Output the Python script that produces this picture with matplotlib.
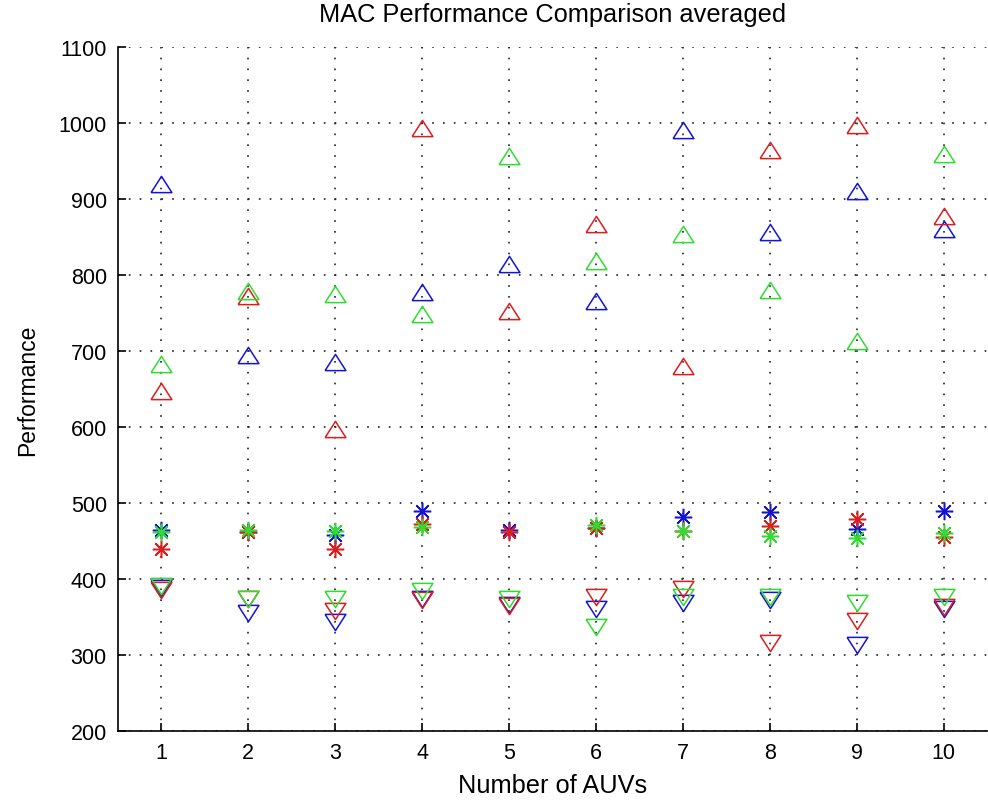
import numpy as np
import matplotlib
matplotlib.use("Agg")
import matplotlib.pyplot as plt

plt.rcParams['font.family'] = ['Liberation Sans', 'DejaVu Sans']

auvs = np.arange(1, 11)
xtick_labels = [str(i) for i in auvs]
yticks = list(range(200, 1101, 100))

# upward triangles
blue_up = [920, 695, 686, 778, 814, 766, 991, 857, 911, 860]
red_up = [647, 772, 597, 993, 753, 867, 680, 964, 998, 878]
green_up = [683, 779, 775, 749, 957, 818, 854, 780, 713, 959]

# asterisks
blue_star = [465, 462, 458, 489, 465, 467, 482, 488, 466, 489]
red_star = [440, 462, 440, 472, 462, 467, 463, 470, 479, 455]
green_star = [462, 465, 463, 468, np.nan, 471, 463, 457, 454, 460]

# downward triangles
blue_down = [388, 355, 343, 374, 366, 360, 368, 372, 313, 360]
red_down = [386, 374, 358, 372, 364, 376, 387, 316, 345, 363]
green_down = [391, 374, 374, 384, 374, 337, 376, 376, 368, 376]

C_BLUE = '#1414d2'
C_RED = '#dc1e1e'
C_GREEN = '#30dc30'

tri_up = [(-1, -0.78), (1, -0.78), (0, 0.78), (-1, -0.78)]
tri_down = [(-1, 0.78), (1, 0.78), (0, -0.78), (-1, 0.78)]
star = (8, 2, 0)

fig = plt.figure(figsize=(9.88, 8.03), dpi=100)
ax = fig.add_axes([0.1194, 0.0884, 0.8796, 0.8518])

def draw(vals, marker, color, ms):
    ax.plot(auvs, vals, linestyle='none', marker=marker, markersize=ms,
            markerfacecolor='none', markeredgecolor=color, markeredgewidth=1.1)

for vals, c in [(blue_up, C_BLUE), (red_up, C_RED), (green_up, C_GREEN)]:
    draw(vals, tri_up, c, 15)
for vals, c in [(blue_star, C_BLUE), (red_star, C_RED), (green_star, C_GREEN)]:
    draw(vals, star, c, 12.5)
for vals, c in [(blue_down, C_BLUE), (red_down, C_RED), (green_down, C_GREEN)]:
    draw(vals, tri_down, c, 15)

ax.set_xlim(0.5, 10.5)
ax.set_ylim(200, 1100)
ax.set_xticks(auvs)
ax.set_xticklabels(xtick_labels)
ax.set_yticks(yticks)
ax.grid(True, color='#222222', linestyle=(0, (1, 5.5)), linewidth=1.2)
ax.set_axisbelow(True)

for s in ['top', 'right']:
    ax.spines[s].set_visible(False)
for s in ['left', 'bottom']:
    ax.spines[s].set_linewidth(1.2)
ax.tick_params(direction='in', length=6, width=1.2, labelsize=15.5, pad=8)

ax.set_title('MAC Performance Comparison averaged', fontsize=18.3, pad=19)
ax.set_xlabel('Number of AUVs', fontsize=18.3, labelpad=7)
ax.set_ylabel('Performance', fontsize=16.5, labelpad=14)

fig.savefig('out.png', dpi=100)
